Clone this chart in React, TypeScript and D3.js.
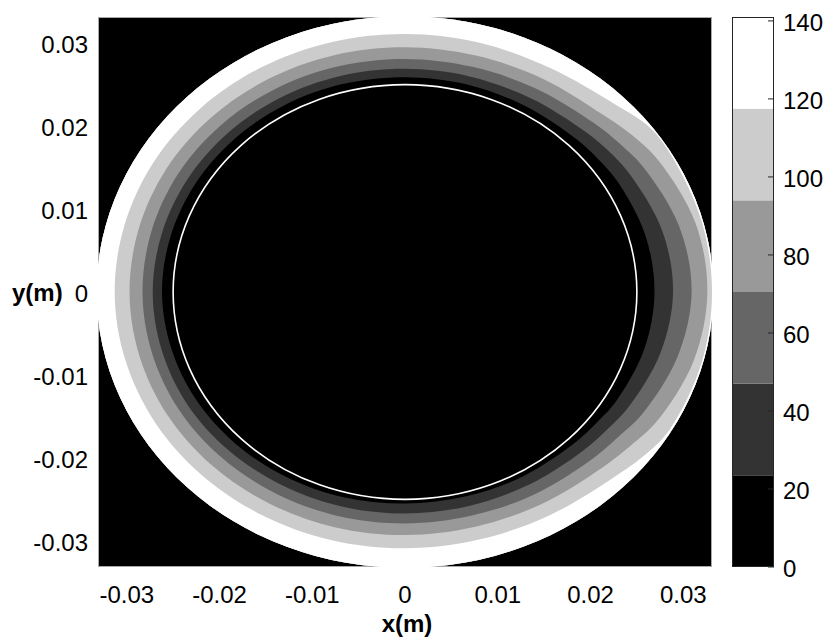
import React from "react";
import * as d3 from "d3";

// ---- data ----
const X_TICKS = [-0.03, -0.02, -0.01, 0, 0.01, 0.02, 0.03];
const Y_TICKS = [-0.03, -0.02, -0.01, 0, 0.01, 0.02, 0.03];
const CB_TICKS = [0, 20, 40, 60, 80, 100, 120, 140];
const CB_MAX = 141;
const LEVELS = [23.5, 47, 70.5, 94, 117.5];
const LEVEL_COLORS = ["#000000", "#333333", "#666666", "#999999", "#cccccc", "#ffffff"];

const R_OUTER = 0.03325; // outer wall radius (m)
const R_INNER = 0.025; // inner wall radius (m)

// contour radius (m) of each level as a function of angle (deg, counter-clockwise from +x)
const ANGLES_DEG = [0, 15, 30, 37, 45, 60, 75, 90, 105, 120, 135, 150, 165, 180, 195, 210, 225, 240, 255, 270, 285, 300, 315, 323, 330, 345];
const R_L23 = [0.0269, 0.0268, 0.0265, 0.0263, 0.0261, 0.0259, 0.0259, 0.0259, 0.02595, 0.026, 0.02605, 0.0261, 0.02615, 0.0262, 0.0261, 0.026, 0.02585, 0.0257, 0.0256, 0.0255, 0.0255, 0.0256, 0.0258, 0.026, 0.0263, 0.0267];
const R_L47 = [0.0289, 0.0287, 0.0281, 0.0278, 0.0274, 0.027, 0.0269, 0.0269, 0.02695, 0.027, 0.02705, 0.0271, 0.02715, 0.0272, 0.02715, 0.0271, 0.02695, 0.0268, 0.02675, 0.0267, 0.0267, 0.0268, 0.0271, 0.0274, 0.0278, 0.0285];
const R_L70 = [0.0309, 0.0306, 0.0298, 0.0293, 0.0288, 0.0283, 0.0281, 0.0281, 0.02815, 0.0282, 0.02825, 0.0283, 0.0283, 0.0283, 0.02825, 0.0282, 0.0281, 0.028, 0.02795, 0.0279, 0.0279, 0.0281, 0.0285, 0.0289, 0.0295, 0.0304];
const R_L94 = [0.0326, 0.0324, 0.0316, 0.031, 0.0302, 0.0297, 0.0295, 0.0295, 0.02955, 0.0296, 0.02965, 0.0297, 0.0297, 0.0297, 0.02965, 0.0296, 0.0295, 0.0294, 0.02935, 0.0293, 0.0293, 0.0295, 0.03, 0.0306, 0.0313, 0.0322];
const R_L117 = [0.0331, 0.0331, 0.0331, 0.033, 0.032, 0.0312, 0.0311, 0.0311, 0.03115, 0.0312, 0.03125, 0.0313, 0.0313, 0.0313, 0.03125, 0.0312, 0.0311, 0.031, 0.03095, 0.0309, 0.0309, 0.0311, 0.0317, 0.0325, 0.033, 0.0331];
const LEVEL_RADII = [R_L23, R_L47, R_L70, R_L94, R_L117];

const W = 824;
const H = 641;
const PLOT = { left: 98, right: 712, top: 17, bottom: 567 };
const CB = { left: 732, right: 774 };
const FONT = "'Liberation Sans', Arial, Helvetica, sans-serif";

export default function App() {
  const x = d3.scaleLinear().domain([-0.0331, 0.0331]).range([PLOT.left, PLOT.right]);
  const y = d3.scaleLinear().domain([-0.03315, 0.03315]).range([PLOT.bottom, PLOT.top]);
  const c = d3.scaleLinear().domain([0, CB_MAX]).range([PLOT.bottom, PLOT.top]);

  const cx = x(0);
  const cy = y(0);
  const rx = (r: number) => x(r) - x(0);
  const ry = (r: number) => y(0) - y(r);

  const contourLine = d3
    .line<[number, number]>()
    .x((d) => x(d[0]))
    .y((d) => y(d[1]))
    .curve(d3.curveCatmullRomClosed.alpha(0.5));

  const pad = 30;
  const bigRect = `M${PLOT.left - pad},${PLOT.top - pad}H${PLOT.right + pad}V${PLOT.bottom + pad}H${PLOT.left - pad}Z`;

  const bandPaths = LEVEL_RADII.map((radii) => {
    const pts: [number, number][] = ANGLES_DEG.map((a, i) => {
      const t = (a * Math.PI) / 180;
      return [radii[i] * Math.cos(t), radii[i] * Math.sin(t)];
    });
    return bigRect + contourLine(pts);
  });

  const cbEdges = [0, ...LEVELS, CB_MAX];

  return (
    <svg
      width={W}
      height={H}
      style={{ position: "absolute", left: 0, top: 0, background: "#fff" }}
      fontFamily={FONT}
    >
      <defs>
        <clipPath id="plotClip">
          <rect x={PLOT.left} y={PLOT.top} width={PLOT.right - PLOT.left} height={PLOT.bottom - PLOT.top} />
        </clipPath>
        <clipPath id="diskClip">
          <ellipse cx={cx} cy={cy} rx={rx(R_OUTER)} ry={ry(R_OUTER)} />
        </clipPath>
      </defs>

      {/* plot background */}
      <rect x={PLOT.left} y={PLOT.top} width={PLOT.right - PLOT.left} height={PLOT.bottom - PLOT.top} fill="#000" />
      <rect
        x={PLOT.left + 0.5}
        y={PLOT.top + 0.5}
        width={PLOT.right - PLOT.left - 1}
        height={PLOT.bottom - PLOT.top - 1}
        fill="none"
        stroke="#a8a8a8"
        strokeWidth={1}
      />

      {/* filled contour bands */}
      <g clipPath="url(#plotClip)">
        <g clipPath="url(#diskClip)">
          {bandPaths.map((p, i) => (
            <path key={i} d={p} fill={LEVEL_COLORS[i + 1]} fillRule="evenodd" />
          ))}
        </g>
        <ellipse cx={cx} cy={cy} rx={rx(R_INNER)} ry={ry(R_INNER)} fill="none" stroke="#fff" strokeWidth={1.6} />
      </g>

      {/* x axis labels */}
      {X_TICKS.map((t) => (
        <text key={"x" + t} x={x(t)} y={603} textAnchor="middle" fontSize={24} fill="#000">
          {t === 0 ? "0" : String(t)}
        </text>
      ))}
      <text x={407} y={632} textAnchor="middle" fontSize={24} fontWeight="bold" fill="#000">
        x(m)
      </text>

      {/* y axis labels */}
      {Y_TICKS.map((t) => (
        <text key={"y" + t} x={88} y={y(t) + 10} textAnchor="end" fontSize={24} fill="#000">
          {t === 0 ? "0" : String(t)}
        </text>
      ))}
      <text x={12} y={301} fontSize={24} fontWeight="bold" fill="#000">
        y(m)
      </text>

      {/* colorbar */}
      {LEVEL_COLORS.map((col, i) => (
        <rect
          key={"cb" + i}
          x={CB.left}
          y={c(cbEdges[i + 1])}
          width={CB.right - CB.left}
          height={c(cbEdges[i]) - c(cbEdges[i + 1])}
          fill={col}
        />
      ))}
      <rect
        x={CB.left + 0.5}
        y={c(CB_MAX) + 0.5}
        width={CB.right - CB.left - 1}
        height={c(0) - c(CB_MAX) - 1}
        fill="none"
        stroke="#262626"
        strokeWidth={1}
      />
      {CB_TICKS.map((t) => (
        <g key={"cbt" + t}>
          <line x1={CB.right - 6} x2={CB.right} y1={c(t)} y2={c(t)} stroke="#262626" strokeWidth={1} />
          <text x={783} y={c(t) + 10} fontSize={24} fill="#000">
            {t}
          </text>
        </g>
      ))}
    </svg>
  );
}
